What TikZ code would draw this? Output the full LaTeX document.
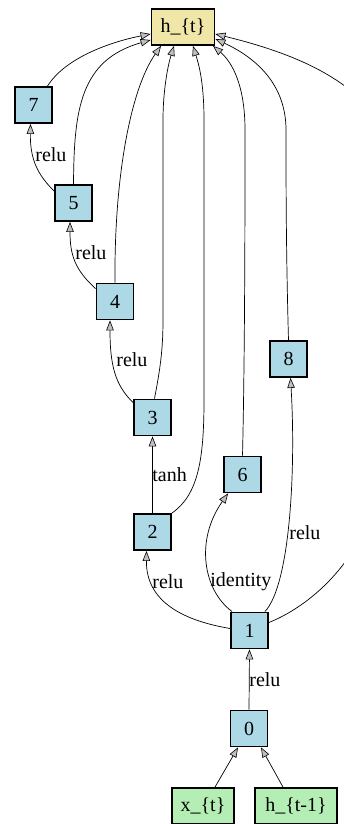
\documentclass[tikz,border=0pt]{standalone}
\usepackage{fontspec}
\setmainfont{Liberation Serif}
\usetikzlibrary{arrows.meta,calc}
\definecolor{nblue}{RGB}{173,216,230}
\definecolor{nkhaki}{RGB}{240,230,168}
\definecolor{ngreen}{RGB}{180,238,180}
\begin{document}
\begin{tikzpicture}[x=1pt,y=-1pt,
  box/.style={draw, line width=1.8pt, fill=nblue, minimum width=37pt, minimum height=36pt, inner sep=0pt, font=\fontsize{20}{24}\selectfont},
  outbox/.style={box, fill=nkhaki, minimum width=63pt},
  inbox/.style={box, fill=ngreen},
  e/.style={line width=0.7pt, -{Triangle[length=10pt,width=7.5pt,fill=gray!50,line width=0.6pt]}},
  lbl/.style={anchor=west, inner sep=0pt, font=\fontsize{20}{24}\selectfont}]
\useasboundingbox (0,0) rectangle (344,824);
\node[outbox] (ht) at (183,27) {h\_\{t\}};
\node[box] (n7) at (33.5,105) {7};
\node[box] (n5) at (73.5,203) {5};
\node[box] (n4) at (115,301.5) {4};
\node[box] (n3) at (152.5,417.5) {3};
\node[box] (n8) at (288.5,359) {8};
\node[box] (n6) at (242.5,474.5) {6};
\node[box] (n2) at (152.5,532) {2};
\node[box] (n1) at (249.5,630.5) {1};
\node[box] (n0) at (249,728.5) {0};
\node[inbox, minimum width=62pt] (xt) at (203,806) {x\_\{t\}};
\node[inbox, minimum width=82pt] (ht1) at (296,806) {h\_\{t-1\}};

% edges to h_t
\draw[e] ($(n7.north)+(14,0)$) .. controls (65,58) and (110,42) .. ($(ht.west)+(0,7)$);
\draw[e] (n5.north) .. controls (74,110) and (80,60) .. ($(ht.west)+(0,13)$);
\draw[e] (n4.north) .. controls (114,180) and (130,90) .. ($(ht.south)+(-22,0)$);
\draw[e] ($(n3.north)+(2,0)$) .. controls (160,370) and (163,350) .. (163,320) -- (163,120) .. controls (163,90) and (168,65) .. ($(ht.south)+(-9,0)$);
\draw[e] (n2.north east) .. controls (198,495) and (204,460) .. (204,400) -- (204,120) .. controls (204,80) and (198,62) .. ($(ht.south)+(10,0)$);
\draw[e] (n6.north) .. controls (245,350) and (245,200) .. (245,130) .. controls (245,85) and (232,62) .. ($(ht.south)+(30,0)$);
\draw[e] (n8.north) .. controls (286,250) and (286,180) .. (286,130) .. controls (286,80) and (250,55) .. ($(ht.east)+(0,12)$);
\draw[e] ($(n1.east)+(0,-8)$) .. controls (300,610) and (330,585) .. (350,555) .. controls (400,480) and (380,114) .. (350,90) .. controls (312.5,60) and (260,45) .. ($(ht.east)+(0,7)$);

% chain edges
\draw[e] ($(n5.north west)+(0,7)$) .. controls (38,175) and (30,160) .. ($(n7.south)+(-3,0)$)
  node[lbl] at (35,155) {relu};
\draw[e] ($(n4.north west)+(0,6)$) .. controls (75,270) and (70,255) .. ($(n5.south)+(-3.5,0)$)
  node[lbl] at (75,253) {relu};
\draw[e] ($(n3.north west)+(0,4)$) .. controls (115,385) and (110,365) .. ($(n4.south)+(-5,0)$)
  node[lbl] at (116,360) {relu};
\draw[e] (n2.north) -- (n3.south)
  node[lbl] at (152,475) {tanh};
\draw[e] ($(n1.west)+(0,-2)$) .. controls (180,620) and (146,600) .. ($(n2.south)+(-6,0)$)
  node[lbl] at (152,582) {relu};
\draw[e] ($(n1.north west)+(2,0)$) .. controls (203,590) and (195,540) .. ($(n6.south west)+(5,0)$)
  node[lbl] at (210,582) {identity};
\draw[e] ($(n1.north east)+(-4,0)$) .. controls (290,585) and (296,470) .. ($(n8.south)+(2,0)$)
  node[lbl] at (289,533) {relu};
\draw[e] (n0.north) -- (n1.south)
  node[lbl] at (249,680) {relu};
\draw[e] ($(xt.north)+(12,0)$) -- ($(n0.south)+(-11,0)$);
\draw[e] ($(ht1.north)+(-13,0)$) -- ($(n0.south)+(12,0)$);
\end{tikzpicture}
\end{document}
